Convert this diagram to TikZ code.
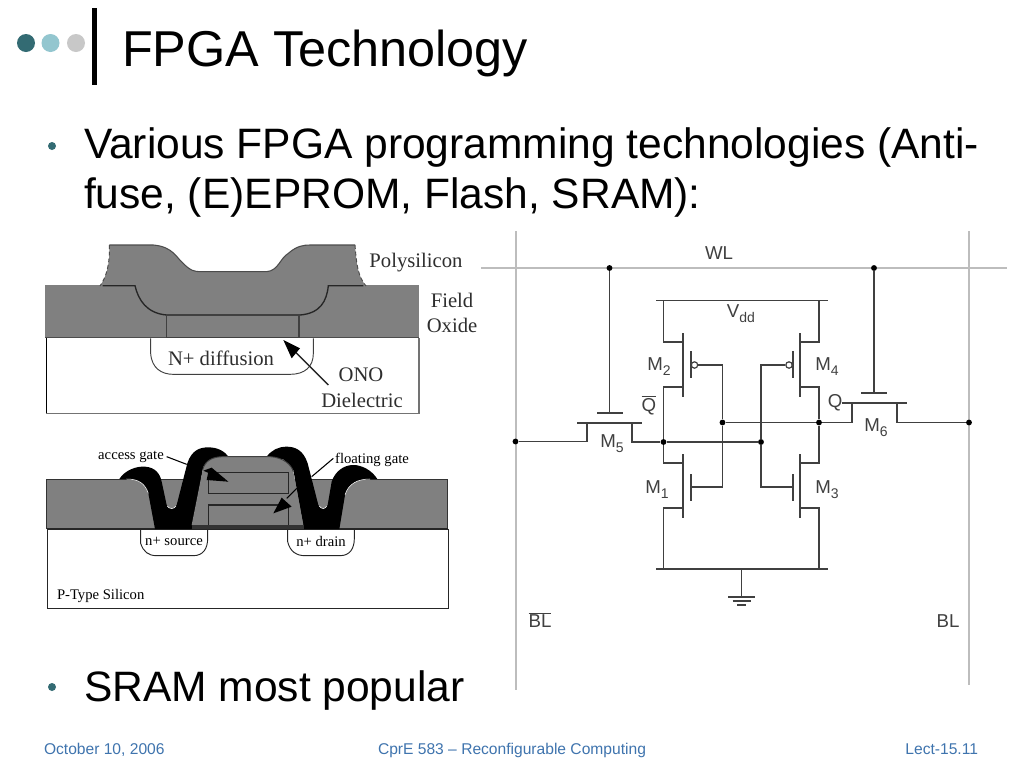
\documentclass[tikz,border=0pt]{standalone}
\usepackage{fontspec}
\setmainfont{Liberation Sans}
\newfontfamily\serifF{Liberation Serif}
\usetikzlibrary{calc}
\definecolor{wire}{HTML}{404040}
\definecolor{rail}{HTML}{BDBDBD}
\definecolor{oxide}{HTML}{808080}
\definecolor{labelgrey}{HTML}{2E2E2E}
\definecolor{footblue}{HTML}{3F74AE}
\definecolor{teal1}{RGB}{51,107,115}
\definecolor{teal2}{RGB}{147,198,207}
\definecolor{grey3}{RGB}{200,200,200}
\newcommand{\fs}[1]{\fontsize{#1}{#1}\selectfont}
\newcommand{\subsc}[1]{\raisebox{-0.28em}{\fontsize{10.5}{10.5}\selectfont #1}}
\tikzset{
  txt/.style={inner sep=0pt,outer sep=0pt},
  titletext/.style={txt,anchor=base west,font=\fs{37.8}},
  bodytext/.style={txt,anchor=base west,font=\fs{31.9}},
  foot/.style={txt,anchor=base,font=\fs{11.7},text=footblue},
  circ/.style={txt,font=\fs{14},text=wire},
  w/.style={draw=wire,line width=1.15pt},
  railw/.style={draw=rail,line width=1.2pt},
  jdot/.style={circle,fill=black,inner sep=0pt,minimum size=4.4pt},
  bubble/.style={circle,draw=wire,fill=white,line width=.9pt,inner sep=0pt,minimum size=4.8pt},
  sec/.style={txt,font=\serifF\fs{15.5},text=labelgrey},
  secs/.style={txt,font=\serifF\fs{11},text=black},
  hdot/.style={circle,inner sep=0pt,minimum size=13.5pt},
  bul/.style={circle,fill=teal1,inner sep=0pt,minimum size=6pt},
}
\begin{document}
\begin{tikzpicture}[x=0.75pt,y=-0.75pt]
\useasboundingbox (0,0) rectangle (1024,768);
\fill[white] (0,0) rectangle (1024,768);

% header
\node[hdot,fill=teal1] (h1) at (26,43) {};
\node[hdot,fill=teal2] (h2) at (50.5,43) {};
\node[hdot,fill=grey3] (h3) at (76,43) {};
\fill[black] (92,8) rectangle (96.5,85);
\node[titletext] (title) at (122,66) {FPGA Technology};

% bullets
\node[bul] (b1) at (52,146) {};
\node[bodytext] (l1) at (84,158) {Various FPGA programming technologies (Anti-};
\node[bodytext] (l2) at (84,208) {fuse, (E)EPROM, Flash, SRAM):};
\node[bul] (b2) at (52,687) {};
\node[bodytext] (l3) at (84,701) {SRAM most popular};

% footer
\node[foot,anchor=base west] (f1) at (44,754) {October 10, 2006};
\node[foot] (f2) at (512,754) {CprE 583 – Reconfigurable Computing};
\node[foot,anchor=base east] (f3) at (978,754) {Lect-15.11};

% ---------- antifuse cross-section (zoom coordinates)
\begin{scope}[shift={(30,230)},x=0.25pt,y=-0.25pt]
  \fill[white] (48,325) rectangle (1167,550);
  \draw[black,line width=.7pt] (48,325) -- (48,550);
  \draw[black!55,line width=.8pt] (48,550) -- (1167,550) -- (1167,325);
  \fill[oxide] (45,165) rectangle (1167,325);
  \draw[black!70,line width=.8pt] (45,323) -- (1167,323);
  % polysilicon
  \fill[oxide] (238,45) -- (370,45) .. controls (430,50) and (440,85) .. (460,100)
     .. controls (480,122) and (495,125) .. (510,125) -- (710,125)
     .. controls (745,122) and (750,85) .. (775,70) .. controls (800,48) and (820,45) .. (840,45)
     -- (975,45) .. controls (980,110) and (985,140) .. (1008,168) -- (210,168)
     .. controls (230,140) and (240,100) .. (238,45) -- cycle;
  \draw[black!70,line width=.8pt] (238,45) -- (370,45) .. controls (430,50) and (440,85) .. (460,100)
     .. controls (480,122) and (495,125) .. (510,125) -- (710,125)
     .. controls (745,122) and (750,85) .. (775,70) .. controls (800,48) and (820,45) .. (840,45)
     -- (975,45);
  \draw[black!70,line width=.7pt,densely dashed] (238,45) .. controls (240,100) and (230,140) .. (210,168);
  \draw[black!70,line width=.7pt,densely dashed] (975,45) .. controls (980,110) and (985,140) .. (1008,168);
  \draw[black!85,line width=1pt] (218,167) -- (315,167) .. controls (325,210) and (350,250) .. (410,255)
     -- (810,255) .. controls (870,250) and (890,215) .. (895,167) -- (1000,167);
  % ONO
  \draw[black!75,line width=1.1pt] (410,255) rectangle (807,323);
  % diffusion
  \draw[black!75,line width=.7pt] (362,325) -- (362,370) .. controls (365,415) and (395,433) .. (430,433)
     -- (780,433) .. controls (825,433) and (850,410) .. (850,370) -- (850,325);
  % arrow
  \draw[black!85,line width=1pt] (895,465) -- (795,365);
  \fill[black] (760,330) -- (810,355) -- (785,385) -- cycle;
\end{scope}
\node[sec] (poly) at (416,263) {Polysilicon};
\node[sec] (field) at (452,300) {Field};
\node[sec] (oxi) at (452,325) {Oxide};
\node[sec] (diff) at (221,358) {N+ diffusion};
\node[sec] (ono) at (361,375) {ONO};
\node[sec] (diel) at (362,400) {Dielectric};

% ---------- flash cross-section (zoom coordinates)
\begin{scope}[shift={(30,430)},x=0.25pt,y=-0.25pt]
  \fill[oxide] (50,147) rectangle (1253,297);
  \draw[black!80,line width=.7pt] (50,297) -- (50,147) -- (1253,147) -- (1253,297);
  \draw[black!85,line width=.7pt] (52,297) -- (52,535) -- (1255,535) -- (1255,297);
  \draw[black!85,line width=1.1pt] (50,297) -- (1253,297);
  % diffusions
  \draw[black!85,line width=.7pt] (332,297) -- (332,340) .. controls (340,365) and (355,377) .. (380,377)
     -- (490,377) .. controls (520,377) and (533,355) .. (533,325) -- (533,297);
  \draw[black!85,line width=.7pt] (773,297) -- (773,335) .. controls (780,365) and (800,377) .. (825,377)
     -- (930,377) .. controls (960,377) and (973,355) .. (973,325) -- (973,297);
  % access gate (black) left
  \fill[black] (268,147) .. controls (285,120) and (320,108) .. (345,110)
     .. controls (375,112) and (390,130) .. (395,155) -- (410,225)
     .. controls (415,240) and (435,240) .. (440,225) -- (472,100)
     .. controls (485,60) and (510,52) .. (535,52) .. controls (565,52) and (585,65) .. (597,82)
     -- (560,90) -- (520,110) -- (485,297) -- (375,297) -- (355,190)
     .. controls (345,160) and (325,147) .. (290,147) -- cycle;
  % right
  \fill[black] (1042,147) .. controls (1025,120) and (995,105) .. (970,105)
     .. controls (940,105) and (915,125) .. (905,155) -- (893,225)
     .. controls (888,240) and (870,240) .. (865,225) -- (833,100)
     .. controls (820,60) and (795,50) .. (770,50) .. controls (745,50) and (725,60) .. (710,80)
     -- (760,88) -- (790,120) -- (822,297) -- (928,297) -- (945,195)
     .. controls (955,160) and (985,147) .. (1020,147) -- cycle;
  % central stack
  \fill[oxide] (485,285) -- (518,120) .. controls (525,90) and (550,80) .. (580,80)
     -- (720,80) .. controls (760,82) and (785,105) .. (790,125) -- (820,285) -- cycle;
  \draw[black!75,line width=.7pt] (518,120) .. controls (525,90) and (550,80) .. (580,80)
     -- (720,80) .. controls (760,82) and (785,105) .. (790,125);
  \draw[white,line width=.4pt] (355,190) .. controls (345,160) and (325,147) .. (290,147);
  \draw[white,line width=.4pt] (945,195) .. controls (955,160) and (985,147) .. (1020,147);
  \draw[white,line width=.4pt] (412,228) .. controls (418,238) and (432,238) .. (438,228);
  \draw[white,line width=.4pt] (868,228) .. controls (874,238) and (886,238) .. (890,228);
  \fill[black!80] (485,285) rectangle (822,297);
  % gates
  \draw[black!85,line width=.8pt] (535,128) rectangle (775,190);
  \draw[black!85,line width=.8pt] (535,285) -- (535,225) -- (775,225) -- (775,285);
  % arrows
  \draw[black,line width=.8pt] (410,80) -- (470,103);
  \fill[black] (595,155) -- (520,122) -- (545,113) -- cycle;
  \fill[black] (595,155) -- (530,150) -- (535,125) -- cycle;
  \draw[black,line width=.8pt] (910,85) -- (845,140);
  \draw[black,line width=.8pt] (800,175) -- (770,205);
  \fill[black] (730,250) -- (755,203) -- (785,230) -- cycle;
\end{scope}
\node[secs] (acc) at (131,457) {access gate};
\node[secs] (flo) at (372,460) {floating gate};
\node[secs] (src) at (174,541) {n+ source};
\node[secs] (drn) at (321,541) {n+ drain};
\node[secs,anchor=west] (pt) at (57,596) {P-Type Silicon};

% ---------- SRAM cell
\coordinate (wlL) at (481,268);
\coordinate (wlR) at (1007,268);
\coordinate (blLt) at (516,231);
\coordinate (blLb) at (516,690);
\coordinate (blRt) at (969,231);
\coordinate (blRb) at (969,685);
\draw[railw] (wlL) -- (wlR);
\draw[railw] (blLt) -- (blLb);
\draw[railw] (blRt) -- (blRb);

\node[jdot] (dWa) at (609.5,268) {};
\node[jdot] (dWb) at (874,268) {};
\node[jdot] (dBL) at (515.5,441.5) {};
\node[jdot] (dBR) at (969,422.5) {};
\node[jdot] (dA) at (663.5,442) {};
\node[jdot] (dB) at (761,442) {};
\node[jdot] (dC) at (722.5,422.5) {};
\node[jdot] (dD) at (819,422.5) {};

% rails
\coordinate (vddL) at (656,300.5); \coordinate (vddR) at (828,300.5);
\coordinate (gndL) at (656,569);   \coordinate (gndR) at (828,569);
\coordinate (gndC) at (741.5,569); \coordinate (gndT) at (741.5,597);
\draw[w] (vddL) -- (vddR);
\draw[w,line width=1.2pt] (gndL) -- (gndR);
\draw[w] (gndC) -- (gndT);
\draw[w] (728,597) -- (755,597);
\draw[w] (732.5,601) -- (750.5,601);
\draw[w] (737,605) -- (746,605);

% M5
\coordinate (g5) at (609.5,413);
\draw[w] (dWa) -- (g5);
\draw[w] (597,413) -- (623,413);
\draw[w] (577,423) -- (642,423);
\draw[w] (dBL) -- (587,441.5) -- (587,423);
\draw[w] (632,423) -- (632,442) -- (dA);
\draw[w] (dA) -- (dB);

% M6
\coordinate (g6) at (874,393);
\draw[w] (dWb) -- (g6);
\draw[w] (861,393) -- (887,393);
\draw[w] (842,403) -- (907,403);
\draw[w] (dC) -- (dD);
\draw[w] (dD) -- (852,422.5) -- (852,403);
\draw[w] (897,403) -- (897,422.5) -- (dBR);

% left inverter
\draw[w] (663.5,300.5) -- (663.5,342) -- (683,342);
\draw[w] (683,333) -- (683,397);
\draw[w] (683,387) -- (663.5,387) -- (dA);
\draw[w] (691,351) -- (691,378);
\node[bubble] (bl) at (694.5,365) {};
\draw[w] (bl) -- (722.5,365) -- (dC);
\draw[w] (dC) -- (722.5,487) -- (691,487);
\draw[w] (691,474) -- (691,501);
\draw[w] (683,454) -- (683,518);
\draw[w] (dA) -- (663.5,463) -- (683,463);
\draw[w] (683,508) -- (663.5,508) -- (663.5,569);

% right inverter
\draw[w] (819,300.5) -- (819,342) -- (800,342);
\draw[w] (800,333) -- (800,397);
\draw[w] (800,387) -- (819,387) -- (dD);
\draw[w] (793,351) -- (793,378);
\node[bubble] (br) at (789,365) {};
\draw[w] (br) -- (761,365) -- (dB);
\draw[w] (dB) -- (761,487) -- (793,487);
\draw[w] (793,474) -- (793,501);
\draw[w] (800,454) -- (800,518);
\draw[w] (dD) -- (819,463) -- (800,463);
\draw[w] (800,508) -- (819,508) -- (819,569);

% labels
\node[circ] (lWL) at (719,253) {WL};
\node[circ] (lV) at (741,314) {V\subsc{dd}};
\node[circ] (lM2) at (659,366.5) {M\subsc{2}};
\node[circ] (lM4) at (827,366.5) {M\subsc{4}};
\node[circ] (lQb) at (649,405) {$\overline{\mbox{Q}}$};
\node[circ] (lQ) at (835,403) {Q};
\node[circ] (lM5) at (612,443.5) {M\subsc{5}};
\node[circ] (lM6) at (876,427.5) {M\subsc{6}};
\node[circ] (lM1) at (657,489.5) {M\subsc{1}};
\node[circ] (lM3) at (827,489.5) {M\subsc{3}};
\node[circ] (lBLb) at (540,620) {$\overline{\mbox{BL}}$};
\node[circ] (lBL) at (948,621) {BL};
\end{tikzpicture}
\end{document}
